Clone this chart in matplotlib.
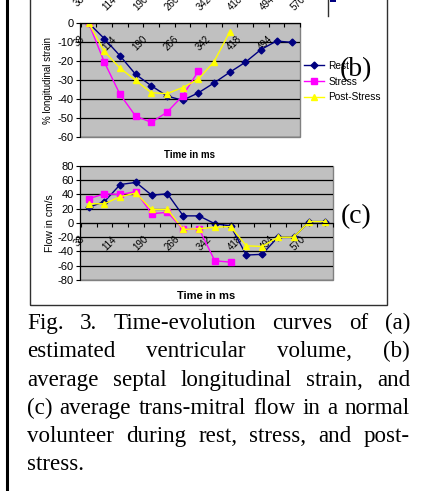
import matplotlib
matplotlib.use("Agg")
import matplotlib.pyplot as plt
from matplotlib.lines import Line2D
from matplotlib.patches import Rectangle
import numpy as np

W, H = 434, 491
plt.rcParams["axes.unicode_minus"] = False
plt.rcParams["font.family"] = ["Liberation Sans", "DejaVu Sans"]

# ── data ──
a_labels = ["38", "114", "190", "266", "342", "418", "494", "570"]

b_times = ["38", "76", "114", "152", "190", "228", "266", "304", "342", "380",
           "418", "456", "494", "532"]
b_rest = [0, -8.2, -17.2, -27, -33, -38.4, -40.7, -36.8, -31.6, -26, -20.7, -14, -9.5, -10.2]
b_stress = [0, -20.5, -37.5, -49, -52.3, -47, -38.4, -25.4]
b_post = [0, -14.9, -23.7, -30.2, -36.7, -37.2, -34, -29.6, -20.5, -4.9]

c_times = ["38", "76", "114", "152", "190", "228", "266", "304", "342", "380",
           "418", "456", "494", "532", "570", "608"]
c_rest = [22, 30, 54, 57, 39, 41, 10, 10, -1, -4, -45, -44, -20, -20, 2, 2]
c_stress = [34, 41, 40, 44, 13, 15, -9, -8, -53, -55]
c_post = [27, 27, 37, 42, 19, 19, -9, -8, -6, -5, -32, -33, -20, -20, 2, 2]

caption = [
    "Fig. 3. Time-evolution curves of (a)",
    "estimated ventricular volume, (b)",
    "average septal longitudinal strain, and",
    "(c) average trans-mitral flow in a normal",
    "volunteer during rest, stress, and post-",
    "stress.",
]

NAVY, MAG, YEL = "#000080", "#ff00ff", "#ffff00"


def px_rect(left, top, right, bottom):
    return [left / W, 1 - bottom / H, (right - left) / W, (bottom - top) / H]


fig = plt.figure(figsize=(W / 100, H / 100), dpi=100)
fig.patch.set_facecolor("white")


def style_axes(ax, cats, ylo, yhi, ystep, label_every=2):
    n = len(cats)
    ax.set_facecolor("#c0c0c0")
    ax.set_xlim(-0.5, n - 0.5)
    ax.set_ylim(ylo, yhi)
    ax.set_yticks(np.arange(ylo, yhi + 1, ystep))
    ax.yaxis.grid(True, color="black", lw=0.9)
    ax.set_axisbelow(True)
    for s in ["top", "right"]:
        ax.spines[s].set_visible(False)
    ax.spines["left"].set_color("black")
    ax.spines["bottom"].set_position(("data", 0))
    ax.spines["bottom"].set_color("black")
    ax.add_patch(Rectangle((0, 0), 1, 1, transform=ax.transAxes, fill=False,
                           ec="#808080", lw=1, zorder=0.5, clip_on=False))
    ax.set_xticks(np.arange(-0.5, n, 1.0))
    ax.set_xticklabels([])
    idx = np.arange(0, n, label_every)
    ax.set_xticks(idx - 0.55, [cats[i] for i in idx], minor=True)
    ax.tick_params(axis="x", which="major", direction="out", length=3, width=0.8)
    ax.tick_params(axis="x", which="minor", length=0, pad=8, labelsize=7)
    for lab in ax.get_xticklabels(minor=True):
        lab.set_rotation(45)
        lab.set_ha("right")
        lab.set_rotation_mode("anchor")
    ax.tick_params(axis="y", direction="out", length=3, width=0.8, labelsize=8, pad=1.5)


# ── panel (a) remnant: tick labels only (axes sits above the canvas) ──
ax_a = fig.add_axes(px_rect(80, -60, 333, -17))
ax_a.set_xlim(-0.5, 15.5)
ax_a.set_ylim(0, 1)
ax_a.set_facecolor("none")
for s in ax_a.spines.values():
    s.set_visible(False)
ax_a.set_yticks([])
ax_a.set_xticks([])
ax_a.set_xticks(np.arange(0, 16, 2) - 0.55, a_labels, minor=True)
ax_a.tick_params(axis="x", which="minor", length=0, pad=8, labelsize=7)
for lab in ax_a.get_xticklabels(minor=True):
    lab.set_rotation(45)
    lab.set_ha("right")
    lab.set_rotation_mode("anchor")

# ── panel (b) ──
ax_b = fig.add_axes(px_rect(80, 23, 300, 137))
style_axes(ax_b, b_times, -60, 0, 10)
xb = np.arange(len(b_times))
ax_b.plot(xb, b_rest, color=NAVY, lw=1, marker="D", ms=3.5, mec=NAVY, label="Rest")
ax_b.plot(xb[:len(b_stress)], b_stress, color=MAG, lw=1, marker="s", ms=3.8, mec=MAG, label="Stress")
ax_b.plot(xb[:len(b_post)], b_post, color=YEL, lw=1, marker="^", ms=4, mec=YEL, label="Post-Stress")
ax_b.set_ylabel("% longitudinal strain", fontsize=7, labelpad=3)
ax_b.set_xlabel("Time in ms", fontsize=7, fontweight="bold")
ax_b.xaxis.set_label_coords(0.5, 1 - (150 - 23) / 114)
ax_b.legend(loc="upper left", bbox_to_anchor=(304 / W, 1 - 61 / H),
            bbox_transform=fig.transFigure, frameon=False, fontsize=7.3,
            handlelength=2.0, handletextpad=0.4, labelspacing=0.55,
            borderpad=0, borderaxespad=0)

# ── panel (c) ──
ax_c = fig.add_axes(px_rect(80, 166, 333, 280))
style_axes(ax_c, c_times, -80, 80, 20)
xc = np.arange(len(c_times))
ax_c.plot(xc, c_rest, color=NAVY, lw=1, marker="D", ms=3.5, mec=NAVY)
ax_c.plot(xc[:len(c_stress)], c_stress, color=MAG, lw=1, marker="s", ms=3.8, mec=MAG)
ax_c.plot(xc[:len(c_post)], c_post, color=YEL, lw=1, marker="^", ms=4, mec=YEL)
ax_c.set_ylabel("Flow in cm/s", fontsize=7.5, labelpad=2)
ax_c.set_xlabel("Time in ms", fontsize=8, fontweight="bold")
ax_c.xaxis.set_label_coords(0.5, 1 - (291 - 166) / 114)

# panel tags
fig.text(356 / W, 1 - 70 / H, "(b)", fontsize=20, family="Liberation Serif",
         ha="center", va="center")
fig.text(356 / W, 1 - 217 / H, "(c)", fontsize=20, family="Liberation Serif",
         ha="center", va="center")

# frame of the figure box, page border, legend remnant of (a)
fig.add_artist(Rectangle((30 / W, 1 - 305 / H), 357 / W, 320 / H, transform=fig.transFigure,
                         fill=False, ec="#303030", lw=1))
fig.add_artist(Line2D([6.5 / W, 6.5 / W], [0, 1], transform=fig.transFigure,
                      color="black", lw=2.2))
fig.add_artist(Line2D([328 / W, 328 / W], [1, 1 - 16 / H], transform=fig.transFigure,
                      color="#303030", lw=1))
fig.add_artist(Rectangle((330 / W, 1 - 2 / H), 6 / W, 3 / H, transform=fig.transFigure,
                         color=NAVY, lw=0))

# ── justified caption ──
renderer = fig.canvas.get_renderer()
x0, x1 = 27, 410
for i, line in enumerate(caption):
    yb = 1 - (329 + i * 28.3) / H
    words = line.split()
    texts = [fig.text(0, yb, w, fontsize=16.6, family="Liberation Serif", va="baseline")
             for w in words]
    widths = [t.get_window_extent(renderer).width for t in texts]
    if i < len(caption) - 1:
        gap = (x1 - x0 - sum(widths)) / (len(words) - 1)
    else:
        gap = 5.5
    x = x0
    for t, w in zip(texts, widths):
        t.set_x(x / W)
        x += w + gap

fig.savefig("out.png", dpi=100)
